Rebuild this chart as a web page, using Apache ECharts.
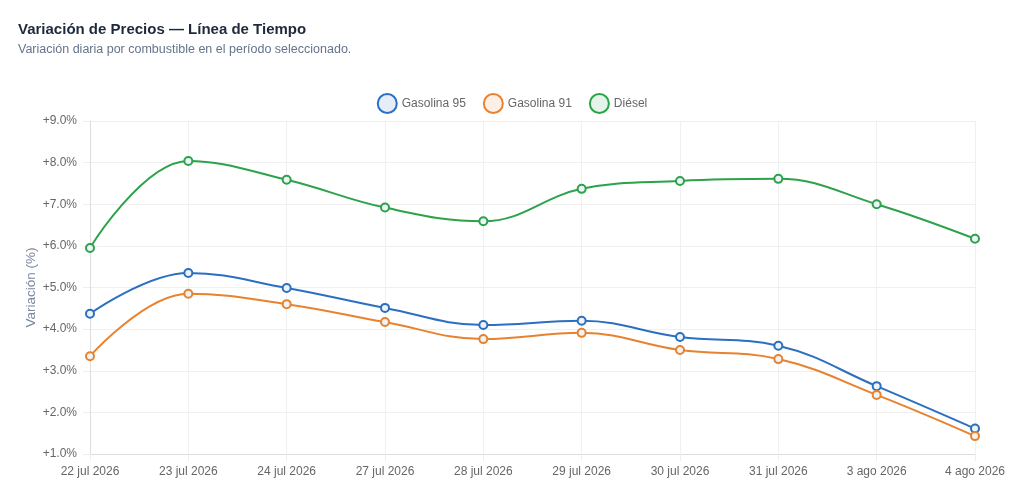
<!DOCTYPE html>
<html>
<head>
<meta charset="utf-8">
<title>Variación de Precios</title>
<script src="https://cdn.jsdelivr.net/npm/echarts@6/dist/echarts.min.js"></script>
<style>
  html, body { margin: 0; padding: 0; background: #fff; }
  #chart { width: 1024px; height: 501px; }
</style>
</head>
<body>
<div id="chart"></div>
<script>
var fechas = ['22 jul 2026', '23 jul 2026', '24 jul 2026', '27 jul 2026', '28 jul 2026',
              '29 jul 2026', '30 jul 2026', '31 jul 2026', '3 ago 2026', '4 ago 2026'];
var gasolina95 = [4.37, 5.35, 4.99, 4.51, 4.10, 4.20, 3.81, 3.60, 2.63, 1.61];
var gasolina91 = [3.35, 4.85, 4.60, 4.17, 3.76, 3.91, 3.50, 3.28, 2.42, 1.43];
var diesel     = [5.95, 8.04, 7.59, 6.92, 6.59, 7.37, 7.56, 7.61, 7.00, 6.17];

var nombres = ['Gasolina 95', 'Gasolina 91', 'Diésel'];
var colores = ['#2b6fc2', '#e8822e', '#2ca24a'];
var rellenos = ['rgba(43,111,194,0.12)', 'rgba(232,130,46,0.12)', 'rgba(44,162,74,0.12)'];
var valores = [gasolina95, gasolina91, diesel];

var fuente = '"Helvetica Neue", Helvetica, "Liberation Sans", Arial, sans-serif';

var chart = echarts.init(document.getElementById('chart'));

var series = nombres.map(function (n, i) {
  return {
    name: n,
    type: 'line',
    data: valores[i],
    smooth: 0.4,
    symbol: 'circle',
    symbolSize: 8,
    lineStyle: { color: colores[i], width: 2 },
    itemStyle: { color: '#eef3f8', borderColor: colores[i], borderWidth: 2 },
    emphasis: { disabled: true }
  };
});

var option = {
  animation: false,
  textStyle: { fontFamily: fuente },
  title: [
    {
      text: 'Variación de Precios — Línea de Tiempo',
      left: 13, top: 17,
      textStyle: { fontSize: 15, fontWeight: 'bold', color: '#1e293b', fontFamily: fuente }
    },
    {
      text: 'Variación diaria por combustible en el período seleccionado.',
      left: 13, top: 38,
      textStyle: { fontSize: 12.5, fontWeight: 'normal', color: '#64748b', fontFamily: fuente }
    }
  ],
  legend: {
    top: 88,
    left: 'center',
    icon: 'circle',
    itemWidth: 19,
    itemHeight: 19,
    itemGap: 17,
    textStyle: { color: '#666', fontSize: 12, fontFamily: fuente },
    data: nombres.map(function (n, i) {
      return { name: n, itemStyle: { color: rellenos[i], borderColor: colores[i], borderWidth: 2 } };
    })
  },
  grid: { left: 90, right: 49, top: 121, bottom: 47, containLabel: false },
  xAxis: {
    type: 'category',
    data: fechas,
    boundaryGap: false,
    axisLine: { lineStyle: { color: '#dddddd' } },
    axisTick: { show: true, length: 7, lineStyle: { color: '#eeeeee' } },
    axisLabel: { color: '#666', fontSize: 12, margin: 12, fontFamily: fuente },
    splitLine: { show: true, lineStyle: { color: '#f0f0f0' } }
  },
  yAxis: {
    type: 'value',
    min: 1, max: 9, interval: 1,
    name: 'Variación (%)',
    nameLocation: 'middle',
    nameRotate: 90,
    nameGap: 52,
    nameMoveOverlap: false,
    nameTextStyle: { color: '#7a889c', fontSize: 13.5, fontFamily: fuente },
    axisLine: { show: true, lineStyle: { color: '#dddddd' } },
    axisTick: { show: true, length: 7, lineStyle: { color: '#eeeeee' } },
    axisLabel: {
      color: '#666', fontSize: 12, margin: 13, fontFamily: fuente,
      formatter: function (v) { return '+' + v.toFixed(1) + '%'; }
    },
    splitLine: { show: true, lineStyle: { color: '#f0f0f0' } }
  },
  series: series
};

chart.setOption(option);
</script>
</body>
</html>
